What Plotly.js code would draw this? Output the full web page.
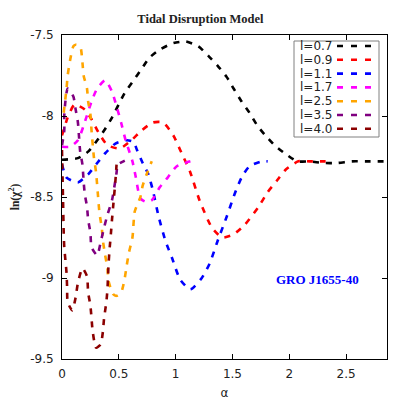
<!DOCTYPE html>
<html>
<head>
<meta charset="utf-8">
<script src="https://cdn.plot.ly/plotly-3.0.1.min.js"></script>
<style>html,body{margin:0;padding:0;background:#fff;}#chart{width:409px;height:409px;}</style>
</head>
<body>
<div id="chart"></div>
<script>
// ---- data ----
const seriesNames = ['l=0.7','l=0.9','l=1.1','l=1.7','l=2.5','l=3.5','l=4.0'];
const seriesColors = ['#000000','#ff0000','#0000ff','#ff00ff','#ffa500','#800080','#8b0000'];

const x_l07 = [0,0.14,0.23,0.31,0.37,0.44,0.55,0.63,0.70,0.77,0.86,0.98,1.09,1.20,1.29,1.37,1.45,1.51,1.58,1.65,1.72,1.79,1.87,1.96,2.07,2.18,2.30,2.42,2.55,2.67,2.86];
const y_l07 = [-8.27,-8.26,-8.22,-8.15,-8.09,-8.01,-7.86,-7.78,-7.71,-7.64,-7.59,-7.55,-7.54,-7.57,-7.63,-7.69,-7.76,-7.83,-7.91,-7.98,-8.06,-8.12,-8.18,-8.23,-8.28,-8.28,-8.29,-8.29,-8.28,-8.28,-8.28];

const x_l09 = [0,0.05,0.11,0.20,0.26,0.32,0.40,0.51,0.61,0.70,0.80,0.89,0.98,1.04,1.13,1.21,1.32,1.41,1.51,1.61,1.73,1.81,1.89,1.97,2.08,2.18,2.32];
const y_l09 = [-8.12,-8.01,-7.93,-7.96,-8.02,-8.10,-8.18,-8.20,-8.15,-8.09,-8.04,-8.04,-8.12,-8.21,-8.35,-8.52,-8.69,-8.75,-8.73,-8.67,-8.56,-8.47,-8.40,-8.33,-8.28,-8.28,-8.28];

const x_l11 = [0,0.04,0.14,0.23,0.31,0.38,0.47,0.57,0.63,0.66,0.71,0.76,0.80,0.85,0.91,0.97,1.04,1.13,1.23,1.30,1.37,1.45,1.52,1.58,1.65,1.76,1.81];
const y_l11 = [-8.30,-8.38,-8.41,-8.36,-8.29,-8.23,-8.17,-8.15,-8.16,-8.21,-8.29,-8.36,-8.46,-8.62,-8.77,-8.88,-9.01,-9.07,-9.00,-8.91,-8.77,-8.62,-8.48,-8.38,-8.31,-8.28,-8.28];

const x_l17 = [0,0.07,0.14,0.19,0.26,0.31,0.38,0.44,0.48,0.52,0.56,0.62,0.65,0.69,0.74,0.79,0.86,0.93,1.01,1.13];
const y_l17 = [-8.19,-8.19,-8.15,-8.06,-7.91,-7.83,-7.78,-7.85,-7.94,-8.04,-8.15,-8.28,-8.38,-8.51,-8.53,-8.52,-8.44,-8.38,-8.31,-8.28];

const x_l25 = [0.015,0.04,0.05,0.07,0.10,0.12,0.16,0.18,0.19,0.22,0.23,0.25,0.26,0.28,0.30,0.32,0.33,0.35,0.36,0.38,0.40,0.41,0.45,0.48,0.52,0.55,0.57,0.59,0.62,0.64,0.69,0.71,0.75,0.79];
const y_l25 = [-7.98,-7.83,-7.75,-7.66,-7.57,-7.56,-7.57,-7.67,-7.75,-7.83,-7.91,-7.99,-8.09,-8.25,-8.35,-8.52,-8.60,-8.69,-8.77,-8.86,-8.94,-9.02,-9.10,-9.11,-9.09,-9.01,-8.92,-8.84,-8.75,-8.59,-8.50,-8.43,-8.35,-8.28];

const x_l35 = [0,0.02,0.02,0.03,0.05,0.10,0.12,0.14,0.15,0.16,0.18,0.19,0.20,0.22,0.23,0.25,0.26,0.31,0.34,0.37,0.40,0.44,0.46,0.48,0.49,0.54,0.57];
const y_l35 = [-8.18,-8.09,-8.00,-7.91,-7.83,-7.88,-7.96,-8.04,-8.13,-8.22,-8.30,-8.40,-8.48,-8.56,-8.64,-8.72,-8.81,-8.86,-8.78,-8.69,-8.61,-8.52,-8.44,-8.35,-8.30,-8.28,-8.27];

const x_l40 = [0,0.005,0.01,0.015,0.02,0.03,0.04,0.045,0.05,0.09,0.12,0.14,0.18,0.22,0.23,0.25,0.26,0.27,0.30,0.34,0.36,0.37,0.39,0.40,0.405,0.41,0.42,0.43,0.44,0.45,0.47,0.48];
const y_l40 = [-8.21,-8.38,-8.55,-8.72,-8.81,-8.89,-8.97,-9.06,-9.15,-9.20,-9.12,-9.03,-8.94,-8.99,-9.09,-9.17,-9.25,-9.33,-9.43,-9.41,-9.33,-9.25,-9.15,-9.07,-8.99,-8.91,-8.81,-8.73,-8.64,-8.56,-8.40,-8.30];

const xTickVals = [0,0.5,1,1.5,2,2.5];
const xTickText = ['0','0.5','1','1.5','2','2.5'];
const yTickVals = [-7.5,-8,-8.5,-9,-9.5];
const yTickText = ['-7.5','-8','-8.5','-9','-9.5'];

const seriesX = [x_l07,x_l09,x_l11,x_l17,x_l25,x_l35,x_l40];
const seriesY = [y_l07,y_l09,y_l11,y_l17,y_l25,y_l35,y_l40];

// ---- traces ----
const DASH = '6px,7px';
const traces = seriesNames.map((name,i)=>({
  x: seriesX[i], y: seriesY[i], name: name, type:'scatter', mode:'lines',
  line:{color:seriesColors[i], width:2.6, dash:DASH, shape:'spline', smoothing:0.6},
  showlegend:false, hoverinfo:'skip'
}));

// ---- custom gnuplot-style legend (text left, sample right) ----
const pxToPaperX = px => (px-62)/325;
const pxToPaperY = py => (359-py)/324;
const annotations = [];
const shapes = [];
shapes.push({type:'rect', xref:'paper', yref:'paper',
  x0:pxToPaperX(294), x1:pxToPaperX(379), y0:pxToPaperY(137), y1:pxToPaperY(41),
  line:{color:'#808080', width:1}, fillcolor:'#ffffff', layer:'above'});
seriesNames.forEach((name,i)=>{
  const py = 46 + 13.8*i;
  annotations.push({xref:'paper', yref:'paper', x:pxToPaperX(298), y:pxToPaperY(py),
    xanchor:'left', yanchor:'middle', showarrow:false, text:name,
    font:{family:'DejaVu Sans', size:12, color:'#222'}});
  shapes.push({type:'line', xref:'paper', yref:'paper',
    x0:pxToPaperX(337), x1:pxToPaperX(372), y0:pxToPaperY(py), y1:pxToPaperY(py),
    line:{color:seriesColors[i], width:2.6, dash:'6px,8px'}, layer:'above'});
});
annotations.push({xref:'x', yref:'y', x:2.25, y:-9.01, showarrow:false,
  text:'<b>GRO J1655-40</b>', font:{family:'Liberation Serif', size:13, color:'#0000ff'}});

const axisCommon = {
  showgrid:false, zeroline:false, showline:true, linecolor:'#000', linewidth:1,
  mirror:'ticks', ticks:'inside', ticklen:5, tickcolor:'#000', tickwidth:1,
  tickfont:{family:'DejaVu Sans', size:12, color:'#222'}
};

const layout = {
  width:409, height:409,
  margin:{l:62, r:22, t:35, b:50, pad:0},
  paper_bgcolor:'#fff', plot_bgcolor:'#fff',
  title:{text:'<b>Tidal Disruption Model</b>', x:0.49, xref:'container', xanchor:'center',
    y:0.955, yref:'container', yanchor:'middle',
    font:{family:'Liberation Serif', size:12.5, color:'#222'}},
  xaxis:Object.assign({}, axisCommon, {range:[0,2.86], tickvals:xTickVals, ticktext:xTickText,
    ticklabelstandoff:4,
    title:{text:'α', font:{family:'DejaVu Sans', size:12, color:'#222'}, standoff:8}}),
  yaxis:Object.assign({}, axisCommon, {range:[-9.5,-7.5], tickvals:yTickVals, ticktext:yTickText,
    ticklabelstandoff:5,
    title:{text:'<b>ln(χ<sup>2</sup>)</b>', font:{family:'Liberation Serif', size:11.5, color:'#222'}, standoff:8}}),
  annotations:annotations,
  shapes:shapes,
  showlegend:false
};

Plotly.newPlot('chart', traces, layout, {staticPlot:true, displayModeBar:false});
</script>
</body>
</html>
